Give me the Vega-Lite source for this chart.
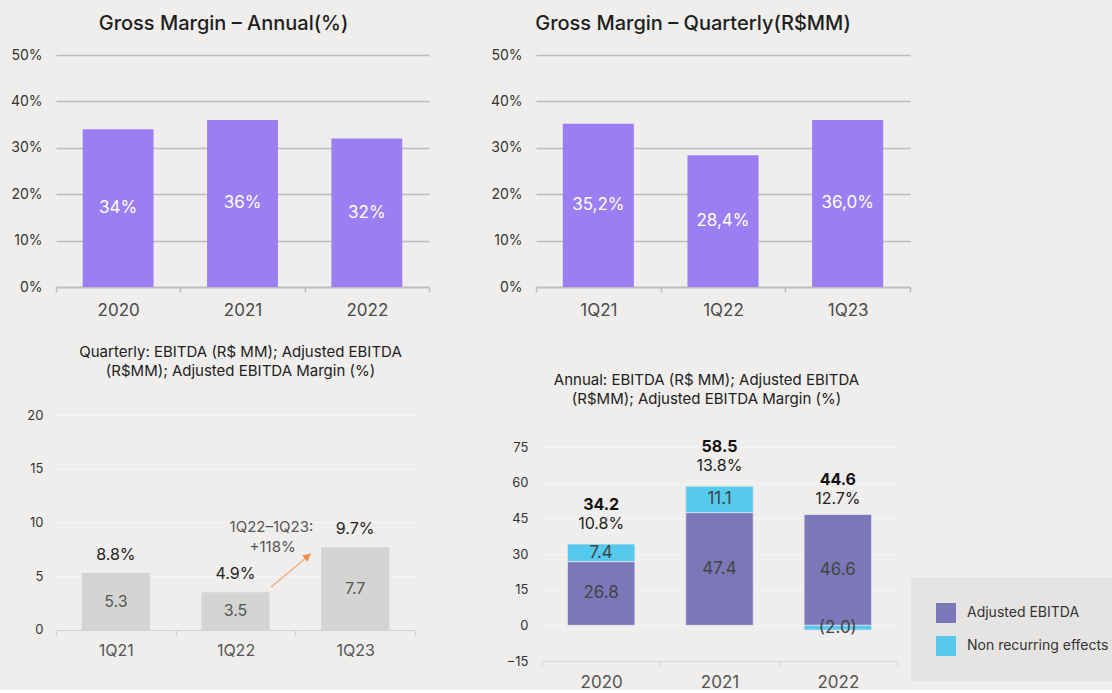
{
  "$schema": "https://vega.github.io/schema/vega-lite/v6.json",
  "background": "#EFEEEC",
  "padding": {"left": 10, "top": 14, "right": 0, "bottom": 0},
  "config": {
    "font": "Inter",
    "view": {"stroke": null},
    "axis": {"labelFont": "Inter", "titleFont": "Inter"},
    "legend": {"labelFont": "Inter"},
    "title": {"font": "Inter"}
  },
  "columns": 2,
  "align": {"row": "each", "column": "none"},
  "spacing": {"row": 27, "column": 60},
  "resolve": {"legend": {"color": "independent"}},
  "concat": [
    {
      "width": 373,
      "height": 232,
      "title": {"text": "Gross Margin – Annual(%)", "fontSize": 20, "fontWeight": 500, "color": "#1E1E1E", "frame": "group", "anchor": "middle", "dx": -19, "offset": 14},
      "data": {"values": [
        {"year": "2020", "gm": 0.34, "label": "34%"},
        {"year": "2021", "gm": 0.36, "label": "36%"},
        {"year": "2022", "gm": 0.32, "label": "32%"}
      ]},
      "encoding": {
        "x": {"field": "year", "type": "nominal", "sort": null, "scale": {"paddingInner": 0, "paddingOuter": 0},
          "axis": {"title": null, "labelAngle": 0, "tickBand": "extent", "domainColor": "#BDBDBD", "domainWidth": 1.5, "tickColor": "#BDBDBD", "tickWidth": 1.5, "tickSize": 5, "labelFontSize": 17, "labelColor": "#4A4A4A", "labelPadding": 10, "grid": false}}
      },
      "layer": [
        {"mark": {"type": "bar", "color": "#9B7EF2", "width": {"band": 0.57}},
         "encoding": {"y": {"field": "gm", "type": "quantitative", "scale": {"domain": [0, 0.5], "nice": false},
           "axis": {"values": [0, 0.1, 0.2, 0.3, 0.4, 0.5], "format": ".0%", "title": null, "domain": false, "ticks": false, "labelFontSize": 14, "labelColor": "#333", "labelPadding": 14, "gridColor": "#BDBDBD", "gridWidth": 1.5, "minExtent": 46, "maxExtent": 46}}}},
        {"mark": {"type": "text", "color": "white", "fontSize": 17},
         "encoding": {"y": {"field": "gm", "type": "quantitative", "stack": "zero", "bandPosition": 0.5}, "text": {"field": "label"}}}
      ]
    },
    {
      "width": 374,
      "height": 232,
      "title": {"text": "Gross Margin – Quarterly(R$MM)", "fontSize": 20, "fontWeight": 500, "color": "#1E1E1E", "frame": "group", "anchor": "middle", "dx": -30, "offset": 14},
      "data": {"values": [
        {"period": "1Q21", "gm": 0.352, "label": "35,2%"},
        {"period": "1Q22", "gm": 0.284, "label": "28,4%"},
        {"period": "1Q23", "gm": 0.36, "label": "36,0%"}
      ]},
      "encoding": {
        "x": {"field": "period", "type": "nominal", "sort": null, "scale": {"paddingInner": 0, "paddingOuter": 0},
          "axis": {"title": null, "labelAngle": 0, "tickBand": "extent", "domainColor": "#BDBDBD", "domainWidth": 1.5, "tickColor": "#BDBDBD", "tickWidth": 1.5, "tickSize": 5, "labelFontSize": 17, "labelColor": "#4A4A4A", "labelPadding": 10, "grid": false}}
      },
      "layer": [
        {"mark": {"type": "bar", "color": "#9B7EF2", "width": {"band": 0.57}},
         "encoding": {"y": {"field": "gm", "type": "quantitative", "scale": {"domain": [0, 0.5], "nice": false},
           "axis": {"values": [0, 0.1, 0.2, 0.3, 0.4, 0.5], "format": ".0%", "title": null, "domain": false, "ticks": false, "labelFontSize": 14, "labelColor": "#333", "labelPadding": 14, "gridColor": "#BDBDBD", "gridWidth": 1.5, "minExtent": 45, "maxExtent": 45}}}},
        {"mark": {"type": "text", "color": "white", "fontSize": 17},
         "encoding": {"y": {"field": "gm", "type": "quantitative", "stack": "zero", "bandPosition": 0.5}, "text": {"field": "label"}}}
      ]
    },
    {
      "width": 359,
      "height": 246,
      "title": {"text": ["Quarterly: EBITDA (R$ MM); Adjusted EBITDA", "(R$MM); Adjusted EBITDA Margin (%)"], "fontSize": 15, "lineHeight": 19, "fontWeight": "normal", "color": "#222", "frame": "group", "anchor": "middle", "dx": 5, "offset": 30},
      "resolve": {"scale": {"x": "independent"}},
      "layer": [
        {
          "data": {"values": [
            {"period": "1Q21", "value": 5.3, "margin": "8.8%"},
            {"period": "1Q22", "value": 3.5, "margin": "4.9%"},
            {"period": "1Q23", "value": 7.7, "margin": "9.7%"}
          ]},
          "encoding": {
            "x": {"field": "period", "type": "nominal", "sort": null, "scale": {"paddingInner": 0, "paddingOuter": 0},
              "axis": {"title": null, "labelAngle": 0, "offset": -31, "tickBand": "extent", "domainColor": "#CFCFCF", "domainWidth": 1.2, "tickColor": "#CFCFCF", "tickWidth": 1.2, "tickSize": 5, "labelFontSize": 16, "labelColor": "#555", "labelPadding": 7, "grid": false}}
          },
          "layer": [
            {"mark": {"type": "bar", "color": "#D4D5D3", "width": {"band": 0.57}},
             "encoding": {"y": {"field": "value", "type": "quantitative", "scale": {"domain": [-2.884, 20], "nice": false, "zero": false},
               "axis": {"values": [0, 5, 10, 15, 20], "title": null, "domain": false, "ticks": false, "labelFontSize": 13, "labelColor": "#333", "labelPadding": 13, "gridColor": "#F6F5F3", "gridWidth": 1.2, "minExtent": 46, "maxExtent": 46}}}},
            {"mark": {"type": "text", "color": "#555", "fontSize": 16},
             "encoding": {"y": {"field": "value", "type": "quantitative", "stack": "zero", "bandPosition": 0.5}, "text": {"field": "value", "type": "quantitative", "format": ".1f"}}},
            {"mark": {"type": "text", "color": "#222", "fontSize": 16, "dy": -18},
             "encoding": {"y": {"field": "value", "type": "quantitative"}, "text": {"field": "margin"}}}
          ]
        },
        {
          "data": {"values": [{"x1": 1.798, "y1": 4.0, "x2": 2.13, "y2": 7.1}]},
          "mark": {"type": "rule", "color": "#F5A574", "strokeWidth": 1.2},
          "encoding": {
            "x": {"field": "x1", "type": "quantitative", "scale": {"domain": [0, 3], "nice": false, "zero": false}, "axis": null},
            "x2": {"field": "x2"},
            "y": {"field": "y1", "type": "quantitative"},
            "y2": {"field": "y2"}
          }
        },
        {
          "data": {"values": [{"x": 2.103, "y": 6.87}]},
          "mark": {"type": "point", "shape": "triangle-up", "filled": true, "color": "#F08A4B", "size": 70, "angle": 50, "opacity": 1},
          "encoding": {
            "x": {"field": "x", "type": "quantitative", "scale": {"domain": [0, 3], "nice": false, "zero": false}, "axis": null},
            "y": {"field": "y", "type": "quantitative"}
          }
        },
        {
          "data": {"values": [{"x": 1.8, "y": 9.58, "t": "1Q22–1Q23:"}, {"x": 1.81, "y": 7.72, "t": "+118%"}]},
          "mark": {"type": "text", "fontSize": 15, "color": "#555"},
          "encoding": {
            "x": {"field": "x", "type": "quantitative", "scale": {"domain": [0, 3], "nice": false, "zero": false}, "axis": null},
            "y": {"field": "y", "type": "quantitative"},
            "text": {"field": "t"}
          }
        }
      ]
    },
    {
      "width": 355,
      "height": 246,
      "title": {"text": ["Annual: EBITDA (R$ MM); Adjusted EBITDA", "(R$MM); Adjusted EBITDA Margin (%)"], "fontSize": 15, "lineHeight": 19, "fontWeight": "normal", "color": "#222", "frame": "group", "anchor": "middle", "dx": -13, "offset": 8},
      "data": {"values": [
        {"year": "2020", "type": "Adjusted EBITDA", "value": 26.8, "label": "26.8", "total": 34.2, "totalLabel": "34.2", "margin": "10.8%"},
        {"year": "2020", "type": "Non recurring effects", "value": 7.4, "label": "7.4"},
        {"year": "2021", "type": "Adjusted EBITDA", "value": 47.4, "label": "47.4", "total": 58.5, "totalLabel": "58.5", "margin": "13.8%"},
        {"year": "2021", "type": "Non recurring effects", "value": 11.1, "label": "11.1"},
        {"year": "2022", "type": "Adjusted EBITDA", "value": 46.6, "label": "46.6", "total": 44.6, "totalLabel": "44.6", "margin": "12.7%"},
        {"year": "2022", "type": "Non recurring effects", "value": -2.0, "label": "(2.0)"}
      ]},
      "encoding": {
        "x": {"field": "year", "type": "nominal", "sort": null, "scale": {"paddingInner": 0, "paddingOuter": 0},
          "axis": {"title": null, "labelAngle": 0, "tickBand": "extent", "domainColor": "#DDDCDA", "domainWidth": 1.5, "tickColor": "#DDDCDA", "tickWidth": 1.5, "tickSize": 5, "labelFontSize": 17, "labelColor": "#555", "labelPadding": 8, "grid": false}}
      },
      "layer": [
        {"mark": {"type": "bar", "width": {"band": 0.57}, "stroke": "#E4E2F0", "strokeWidth": 0.8},
         "encoding": {
           "y": {"field": "value", "type": "quantitative", "stack": "zero", "scale": {"domain": [-15, 88.46], "nice": false, "zero": false},
             "axis": {"values": [-15, 0, 15, 30, 45, 60, 75], "title": null, "domain": false, "ticks": false, "labelFontSize": 13, "labelColor": "#333", "labelPadding": 14, "gridColor": "#F6F5F3", "gridWidth": 1.2, "minExtent": 52, "maxExtent": 52}},
           "color": {"field": "type", "type": "nominal", "scale": {"domain": ["Adjusted EBITDA", "Non recurring effects"], "range": ["#7B77B8", "#56C9EE"]},
             "legend": {"orient": "none", "legendX": 369, "legendY": 163, "title": null, "fillColor": "#E5E4E2", "padding": 25, "symbolType": "square", "symbolSize": 400, "symbolStrokeWidth": 0, "symbolOpacity": 1, "rowPadding": 13, "labelFontSize": 14, "labelColor": "#333", "labelOffset": 11}},
           "order": {"field": "type"}
         }},
        {"mark": {"type": "text", "color": "#444", "fontSize": 17},
         "encoding": {
           "y": {"field": "value", "type": "quantitative", "stack": "zero", "bandPosition": 0.5},
           "detail": {"field": "type"},
           "order": {"field": "type"},
           "text": {"field": "label"}
         }},
        {"transform": [{"filter": "datum.type == 'Adjusted EBITDA'"}],
         "mark": {"type": "text", "color": "#111", "fontSize": 16, "fontWeight": "bold", "dy": -39},
         "encoding": {"y": {"field": "total", "type": "quantitative"}, "text": {"field": "totalLabel"}}},
        {"transform": [{"filter": "datum.type == 'Adjusted EBITDA'"}],
         "mark": {"type": "text", "color": "#222", "fontSize": 16, "dy": -20},
         "encoding": {"y": {"field": "total", "type": "quantitative"}, "text": {"field": "margin"}}}
      ]
    }
  ]
}
